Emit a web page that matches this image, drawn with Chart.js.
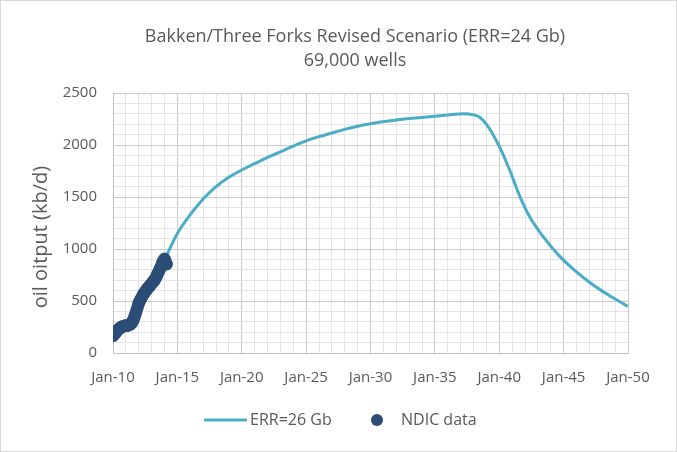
<!DOCTYPE html>
<html>
<head>
<meta charset="utf-8">
<script src="https://cdn.jsdelivr.net/npm/chart.js@4"></script>
<style>
html,body{margin:0;padding:0;background:#fff;}
#wrap{width:677px;height:452px;position:relative;}
</style>
</head>
<body>
<div id="wrap"><canvas id="c" width="677" height="452"></canvas></div>
<script>
// ---- data ----
const titleLines = ["Bakken/Three Forks Revised Scenario (ERR=24 Gb)", "69,000 wells"];
const yAxisTitle = "oil oitput (kb/d)";
const seriesNames = ["ERR=26 Gb", "NDIC data"];

// scenario curve (decimal year, kb/d)
const scenarioYears  = [2014.0, 2015.0, 2016.0, 2017.0, 2018.0, 2019.0, 2020.0, 2021.0, 2022.0, 2023.0, 2024.0, 2025.0, 2026.0, 2027.0, 2028.0, 2029.0, 2030.0, 2032.0, 2034.0, 2036.0, 2037.2, 2038.0, 2038.5, 2039.0, 2040.05, 2040.8, 2041.6, 2042.35, 2043.4, 2044.7, 2046.0, 2047.0, 2048.0, 2049.0, 2050.0];
const scenarioValues = [895, 1150, 1330, 1480, 1600, 1690, 1760, 1820, 1880, 1935, 1990, 2040, 2080, 2115, 2150, 2180, 2205, 2240, 2265, 2288, 2300, 2290, 2265, 2200, 1975, 1762, 1506, 1313, 1121, 929, 780, 680, 595, 520, 448];

// NDIC monthly data from Jan-2010 (kb/d)
const ndicStartYear = 2010;
const ndicValues = [
  166, 178, 190, 203, 215, 226, 236, 244, 250, 255, 259, 262,
  263, 264, 266, 270, 276, 284, 298, 318, 345, 375, 410, 445,
  478, 500, 520, 540, 560, 575, 590, 605, 618, 630, 642, 655,
  668, 680, 692, 705, 725, 748, 770, 792, 815, 840, 865, 885,
  905, 880, 855
];

// axis settings
const xMin = 2010, xMax = 2050, xMajor = 5;
const yMin = 0, yMax = 2500, yMajor = 500, yMinor = 100;

const scenarioPoints = scenarioYears.map((x, i) => ({x: x, y: scenarioValues[i]}));
const ndicPoints = ndicValues.map((v, i) => ({x: ndicStartYear + i / 12, y: v}));

const TXT = '#595959';
const FONT = "'Open Sans', sans-serif";
const LINE_COLOR = '#4bacc6';
const DOT_COLOR = '#2c4d75';
const MAJOR_GRID = '#cbcbcb';
const MINOR_GRID = '#e4e4e4';

const decorPlugin = {
  id: 'decor',
  beforeDraw(chart) {
    const ctx = chart.ctx;
    ctx.save();
    ctx.fillStyle = '#fff';
    ctx.fillRect(0, 0, chart.width, chart.height);
    ctx.restore();
  },
  afterDraw(chart) {
    const ctx = chart.ctx;
    ctx.save();
    // frame
    ctx.strokeStyle = '#d9d9d9';
    ctx.lineWidth = 1;
    ctx.strokeRect(0.5, 0.5, chart.width - 1, chart.height - 1);
    // title
    ctx.fillStyle = TXT;
    ctx.textAlign = 'center';
    ctx.textBaseline = 'middle';
    ctx.font = "18px " + FONT;
    ctx.fillText(titleLines[0], 355, 37);
    ctx.fillText(titleLines[1], 355, 61);
    // y axis title
    ctx.save();
    ctx.translate(41, 237);
    ctx.rotate(-Math.PI / 2);
    ctx.font = "20px " + FONT;
    ctx.fillText(yAxisTitle, 0, 0);
    ctx.restore();
    // legend
    const ly = 420;
    const ds0 = chart.data.datasets[0], ds1 = chart.data.datasets[1];
    ctx.strokeStyle = ds0.borderColor;
    ctx.lineWidth = 3;
    ctx.beginPath();
    ctx.moveTo(204, ly);
    ctx.lineTo(247, ly);
    ctx.stroke();
    ctx.font = "16px " + FONT;
    ctx.textAlign = 'left';
    ctx.fillStyle = TXT;
    ctx.fillText(ds0.label, 250, ly);
    ctx.fillStyle = ds1.backgroundColor;
    ctx.beginPath();
    ctx.arc(377, ly, 6, 0, Math.PI * 2);
    ctx.fill();
    ctx.fillStyle = TXT;
    ctx.fillText(ds1.label, 401, ly);
    ctx.restore();
  }
};

new Chart(document.getElementById('c'), {
  type: 'line',
  data: {
    datasets: [
      {
        label: seriesNames[0],
        data: scenarioPoints,
        borderColor: LINE_COLOR,
        backgroundColor: LINE_COLOR,
        borderWidth: 3,
        pointRadius: 0,
        cubicInterpolationMode: 'monotone',
        fill: false,
        order: 1
      },
      {
        label: seriesNames[1],
        data: ndicPoints,
        showLine: false,
        borderColor: DOT_COLOR,
        backgroundColor: DOT_COLOR,
        pointBackgroundColor: DOT_COLOR,
        pointBorderColor: DOT_COLOR,
        pointBorderWidth: 0,
        pointRadius: 6.3,
        order: 0
      }
    ]
  },
  options: {
    responsive: false,
    animation: false,
    devicePixelRatio: 1,
    layout: {padding: {top: 93, right: 49, bottom: 59, left: 0}},
    plugins: {
      legend: {display: false},
      title: {display: false},
      tooltip: {enabled: false}
    },
    scales: {
      x: {
        type: 'linear',
        min: xMin,
        max: xMax,
        afterFit(s) { s.height = 40; },
        afterBuildTicks(s) {
          const t = [];
          for (let v = xMin; v <= xMax; v++) t.push({value: v});
          s.ticks = t;
        },
        ticks: {
          autoSkip: false,
          maxRotation: 0,
          padding: 16,
          color: TXT,
          font: {family: FONT, size: 15},
          callback: (v) => (v % xMajor === 0) ? 'Jan-' + String(v % 100).padStart(2, '0') : ''
        },
        grid: {
          drawTicks: false,
          color: (c) => (c.tick && c.tick.value % xMajor === 0) ? MAJOR_GRID : MINOR_GRID
        },
        border: {color: '#bfbfbf'}
      },
      y: {
        min: yMin,
        max: yMax,
        afterFit(s) { s.width = 113; },
        afterBuildTicks(s) {
          const t = [];
          for (let v = yMin; v <= yMax; v += yMinor) t.push({value: v});
          s.ticks = t;
        },
        ticks: {
          autoSkip: false,
          padding: 16,
          color: TXT,
          font: {family: FONT, size: 15},
          callback: (v) => (v % yMajor === 0) ? String(v) : ''
        },
        grid: {
          drawTicks: false,
          color: (c) => (c.tick && c.tick.value % yMajor === 0) ? MAJOR_GRID : MINOR_GRID
        },
        border: {color: '#bfbfbf'}
      }
    }
  },
  plugins: [decorPlugin]
});
</script>
</body>
</html>
